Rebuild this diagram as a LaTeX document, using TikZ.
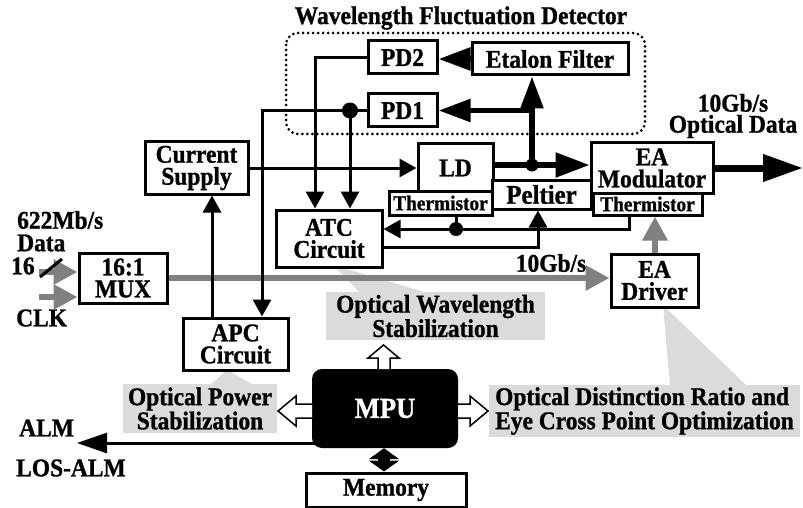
\documentclass[tikz,border=0pt]{standalone}
\usepackage{fontspec}
\setmainfont{Liberation Serif}[FakeStretch=0.92, BoldFeatures={FakeBold=1}]
\usetikzlibrary{arrows.meta}
\definecolor{sig}{gray}{0.5}
\definecolor{call}{gray}{0.86}
\begin{document}
\begin{tikzpicture}[x=1pt,y=-1pt,
  font=\fontsize{25.5}{22}\selectfont\bfseries,
  box/.style={draw, line width=3pt, fill=white, inner sep=0pt, align=center},
  wire/.style={line width=3pt},
  tip/.style={-{Triangle[length=17pt,width=18pt]}},
  optic/.style={line width=5.5pt},
  bigtip/.style={-{Triangle[length=32pt,width=22pt]}},
  sigl/.style={draw=sig, line width=6.5pt, -{Triangle[length=24pt,width=24pt]}},
  callout/.style={fill=call, inner sep=0pt, align=center},
  openarrow/.style={draw, line width=1.5pt, fill=white, line join=miter},
  small/.style={font=\fontsize{21}{20}\selectfont\bfseries},
  lbl/.style={inner sep=0pt, anchor=west}]
\useasboundingbox (0,0) rectangle (803,508);

% callouts
\fill[call] (333,265) -- (360,293) -- (428,293) -- cycle;
\node[callout, minimum width=219pt, minimum height=48pt] (cw) at (435.5,316) {Optical Wavelength\\Stabilization};
\fill[call] (227,370) -- (210,385) -- (254,385) -- cycle;
\node[callout, minimum width=154pt, minimum height=49pt] (cp) at (200,408.5) {Optical Power\\Stabilization};
\fill[call] (663,305) -- (670,386) -- (747,386) -- cycle;
\node[callout, minimum width=311pt, minimum height=52pt, align=left] (cd) at (644.5,411) {Optical Distinction Ratio and\\Eye Cross Point Optimization};

% detector frame
\node[inner sep=0pt] (title) at (461,18) {Wavelength Fluctuation Detector};
\draw[line width=3pt, dash pattern=on 0pt off 5pt, line cap=round, rounded corners=12pt] (286,33) rectangle (645,134);

% boxes
\node[box, minimum width=69pt, minimum height=33pt] (pd2) at (402.5,57.5) {PD2};
\node[box, minimum width=69pt, minimum height=33pt] (pd1) at (402.5,110.5) {PD1};
\node[box, minimum width=156pt, minimum height=32pt] (etalon) at (550,59) {Etalon Filter};
\node[box, minimum width=75pt, minimum height=48pt] (ld) at (455.5,168) {LD};
\node[box, minimum width=122pt, minimum height=50pt] (eam) at (652,168) {EA\\Modulator};
\node[box, small, minimum width=109pt, minimum height=22pt] (therEA) at (647.5,204) {Thermistor};
\node[box, minimum width=99pt, minimum height=29pt, font=\fontsize{27}{22}\selectfont\bfseries] (peltier) at (541.5,194.5) {Peltier};
\node[box, small, minimum width=103pt, minimum height=24pt] (therLD) at (440.5,203) {Thermistor};
\node[box, minimum width=106pt, minimum height=57pt] (atc) at (329,238.5) {ATC\\Circuit};
\node[box, minimum width=105pt, minimum height=52pt] (apc) at (235.5,344) {APC\\Circuit};
\node[box, minimum width=103pt, minimum height=52pt] (cs) at (196.5,168) {Current\\Supply};
\node[box, minimum width=88pt, minimum height=50pt] (mux) at (123,278) {16:1\\MUX};
\node[box, minimum width=87pt, minimum height=53pt] (ead) at (654.5,280.5) {EA\\Driver};
\node[fill=black, rounded corners=10pt, minimum width=146pt, minimum height=79pt, inner sep=0pt, text=white, font=\fontsize{29}{27}\selectfont\bfseries] (mpu) at (385,408.5) {MPU};
\node[box, minimum width=160pt, minimum height=34pt] (mem) at (386,490) {Memory};

% labels
\node[lbl] (l622) at (17,220) {622Mb/s};
\node[lbl] (ldata) at (17,243) {Data};
\node[lbl] (l16) at (11,266) {16};
\node[lbl] (lclk) at (16,318) {CLK};
\node[lbl] (lalm) at (19,428) {ALM};
\node[lbl] (llos) at (16,468) {LOS-ALM};
\node[inner sep=0pt] (l10g) at (551,263) {10Gb/s};
\node[inner sep=0pt, align=center, font=\fontsize{25.5}{21}\selectfont\bfseries] (lopt) at (733,116) {10Gb/s\\Optical Data};

% coordinates
\coordinate (j1) at (532,165);
\coordinate (j2) at (532,110.5);
\coordinate (j3) at (350,110.5);
\coordinate (c1) at (315,57.5);
\coordinate (c2) at (262,110.5);
\coordinate (c4) at (212,0);
\coordinate (j4) at (456,229);
\coordinate (c5) at (629,229);
\coordinate (c6) at (538,247);
\coordinate (c7) at (655,0);
\coordinate (d1) at (39,272);
\coordinate (d2) at (39,297);
\coordinate (out) at (803,168);
\coordinate (alm) at (77,443);
\coordinate (s1) at (40,277);
\coordinate (s2) at (62,259);
\coordinate (m1) at (384,0);

% gray signal paths
\draw[sigl] (d1) -- (mux.west |- d1);
\draw[sigl] (d2) -- (mux.west |- d2);
\draw[sigl] (mux.east) -- (ead.west |- mux.east);
\draw[sigl] (ead.north -| c7) -- (therEA.south -| c7);
\draw[wire] (s1) -- (s2);

% optical paths
\draw[optic, bigtip] (etalon.west) -- (pd2.east |- etalon.west);
\draw[optic, -{Triangle[length=34pt,width=24pt]}] (ld.east |- j1) -- (eam.west |- j1);
\draw[optic, bigtip] (j1) -- (j1 |- etalon.south);
\draw[optic, bigtip] (j2) -- (pd1.east |- j2);
\fill (j1) circle (6.5pt);
\draw[line width=7pt, -{Triangle[length=40pt,width=26pt]}] (eam.east) -- (out);

% electrical wires
\draw[wire, tip] (pd2.west) -- (c1) -- (c1 |- atc.north);
\draw[wire, tip] (pd1.west) -- (c2) -- (c2 |- apc.north);
\draw[wire, tip] (j3) -- (j3 |- atc.north);
\fill (j3) circle (8pt);
\draw[wire, tip] (cs.east) -- (ld.west);
\draw[wire, tip] (apc.north -| c4) -- (cs.south -| c4);
\draw[wire] (therLD.south -| j4) -- (j4);
\draw[wire, tip] (therEA.south -| c5) -- (c5) -- (atc.east |- c5);
\fill (j4) circle (7pt);
\draw[wire, tip] (atc.east |- c6) -- (c6) -- (peltier.south -| c6);
\draw[wire, -{Triangle[length=30pt,width=20pt]}] ([xshift=6pt]mpu.west |- alm) -- (alm);
\draw[line width=12pt, {Triangle[length=11pt,width=30pt]}-{Triangle[length=11pt,width=30pt]}] (mpu.south -| m1) -- (mem.north -| m1);

% open arrows from MPU
\draw[openarrow] (312,404) -- (296,404) -- (296,396) -- (278,411) -- (296,426) -- (296,418) -- (312,418);
\draw[openarrow] (378,369) -- (378,358) -- (368,358) -- (383.5,345) -- (399,358) -- (390,358) -- (390,369);
\draw[openarrow] (458,404) -- (470,404) -- (470,396) -- (488,411) -- (470,426) -- (470,418) -- (458,418);
\end{tikzpicture}
\end{document}
